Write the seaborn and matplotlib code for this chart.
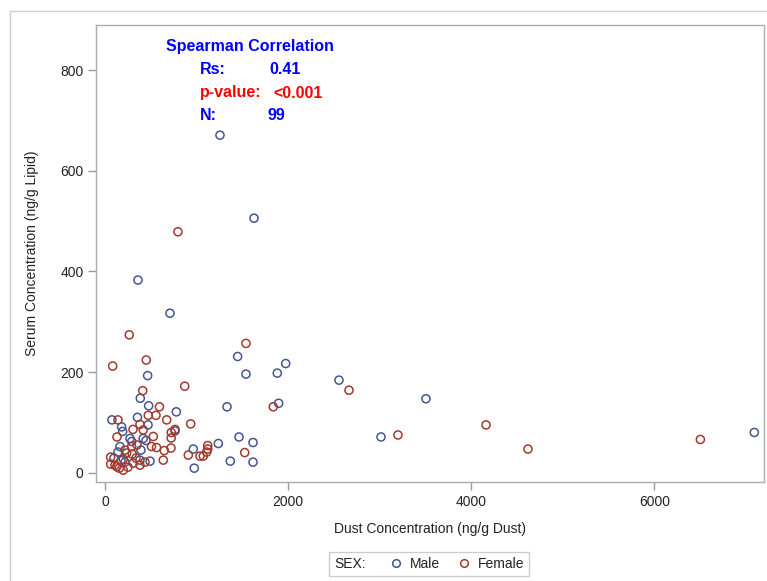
import matplotlib
matplotlib.use("Agg")
import matplotlib.pyplot as plt
from matplotlib.lines import Line2D
from matplotlib.offsetbox import HPacker
import pandas as pd
import seaborn as sns

# ---- data ----
male_dust = [1256, 1628, 360, 710, 1449, 1540, 1882, 1974, 466, 2556,
             386, 3506, 1897, 1333, 477, 779, 355, 76, 470, 182,
             193, 273, 292, 418, 448, 765, 1464, 1617, 1238, 965,
             1369, 1617, 975, 3015, 7092, 164, 393, 98, 382, 175,
             218, 492, 142]
male_serum = [671, 506, 383, 317, 231, 196, 198, 217, 193, 184,
              148, 147, 138, 131, 133, 121, 110, 105, 95, 91,
              82, 68, 62, 68, 64, 83, 71, 60, 58, 47,
              23, 21, 9, 71, 80, 52, 45, 29, 25, 24,
              21, 23, 41]
female_dust = [797, 265, 1540, 451, 84, 871, 2665, 412, 1838, 595,
               473, 557, 674, 142, 936, 382, 306, 418, 765, 724,
               723, 131, 528, 508, 563, 292, 648, 721, 637, 910,
               1038, 1074, 1122, 1122, 1111, 1526, 3200, 4162, 4620, 6503,
               237, 298, 62, 200, 62, 109, 309, 382, 156, 200,
               128, 339, 251, 218, 350, 437]
female_serum = [479, 274, 257, 224, 212, 172, 164, 163, 131, 131,
                114, 114, 105, 105, 97, 96, 86, 85, 86, 80,
                69, 71, 72, 52, 50, 52, 44, 49, 25, 35,
                33, 33, 54, 47, 41, 40, 75, 95, 47, 66,
                39, 37, 31, 27, 17, 15, 19, 15, 9, 5,
                12, 29, 11, 45, 55, 21]

sex_order = ["Male", "Female"]
x_ticks = [0, 2000, 4000, 6000]
y_ticks = [0, 200, 400, 600, 800]
x_label = "Dust Concentration (ng/g Dust)"
y_label = "Serum Concentration (ng/g Lipid)"
stat_title = "Spearman Correlation"
stat_names = ["Rs:", "p-value:", "N:"]
stat_values = ["0.41", "<0.001", "99"]

palette = {"Male": "#445694", "Female": "#A23A2E"}

df = pd.DataFrame({
    "dust": male_dust + female_dust,
    "serum": male_serum + female_serum,
    "sex": ["Male"] * len(male_dust) + ["Female"] * len(female_dust),
})

sns.set_theme(style="white")
plt.rcParams["font.family"] = ["Liberation Sans", "DejaVu Sans"]

W, H = 767, 581
fig = plt.figure(figsize=(W / 100, H / 100), dpi=100)
fig.patch.set_facecolor("white")

L, T, R, B = 96, 25, 764, 482
ax = fig.add_axes([L / W, 1 - B / H, (R - L) / W, (B - T) / H])

sns.scatterplot(data=df, x="dust", y="serum", hue="sex", hue_order=sex_order,
                palette=palette, s=34, legend=False, ax=ax)
coll = ax.collections[0]
fc = coll.get_facecolors().copy()
coll.set_edgecolors(fc)
coll.set_facecolors("none")
coll.set_linewidths(1.1)

ax.set_xlim(-98, 7198)
ax.set_ylim(-18.5, 890)
ax.set_xticks(x_ticks)
ax.set_yticks(y_ticks)
ax.set_xticklabels([str(v) for v in x_ticks])
ax.set_yticklabels([str(v) for v in y_ticks])
ax.set_xlabel(x_label, fontsize=10, color="#222222", labelpad=10)
ax.set_ylabel(y_label, fontsize=10, color="#222222", labelpad=15)
ax.tick_params(axis="both", which="both", direction="out", length=6, width=1,
               color="#9a9a9a", labelsize=10, labelcolor="#222222", pad=3,
               bottom=True, left=True)
for sp in ax.spines.values():
    sp.set_color("#a8adb2")
    sp.set_linewidth(1.0)

# statistics annotation
fig.text(250 / W, 1 - 46 / H, stat_title, color="#0000FF", fontsize=11.5,
         fontweight="bold", ha="center", va="center")
name_y = [69, 93, 116]
val_x = [269, 273, 267]
name_colors = ["#0000FF", "#FF0000", "#0000FF"]
for nm, val, yy, vx, c in zip(stat_names, stat_values, name_y, val_x, name_colors):
    fig.text(200 / W, 1 - yy / H, nm, color=c, fontsize=11.5, fontweight="bold",
             ha="left", va="center")
    fig.text(vx / W, 1 - yy / H, val, color=c, fontsize=11.5, fontweight="bold",
             ha="left", va="center")

# outer figure border (top and left)
fig.add_artist(Line2D([10 / W, 1.0], [1 - 11 / H, 1 - 11 / H], color="#cfcfcf",
                      linewidth=1.0, transform=fig.transFigure))
fig.add_artist(Line2D([10 / W, 10 / W], [1 - 11 / H, 0.0], color="#cfcfcf",
                      linewidth=1.0, transform=fig.transFigure))

# legend with inline title
handles = [Line2D([], [], linestyle="none", marker="o", markerfacecolor="none",
                  markeredgecolor=palette[s], markersize=5.5, markeredgewidth=1.1)
           for s in sex_order]
leg = fig.legend(handles, sex_order, title="SEX:", loc="center",
                 bbox_to_anchor=(429 / W, 1 - 564 / H), ncol=2, frameon=True,
                 fancybox=False, edgecolor="#c0c0c0", fontsize=10,
                 title_fontsize=10, handlelength=0.8, handletextpad=0.6,
                 columnspacing=1.3, borderpad=0.35)
leg.get_frame().set_linewidth(1.0)
for t in leg.get_texts():
    t.set_color("#222222")
leg.get_title().set_color("#222222")
fs = leg._fontsize
newbox = HPacker(pad=leg.borderpad * fs, sep=1.8 * fs, align="center",
                 children=[leg._legend_title_box, leg._legend_handle_box])
newbox.set_figure(fig)
newbox.axes = None
newbox.set_offset(leg._findoffset)
leg._legend_box = newbox

fig.savefig("out.png", dpi=100, facecolor="white")
